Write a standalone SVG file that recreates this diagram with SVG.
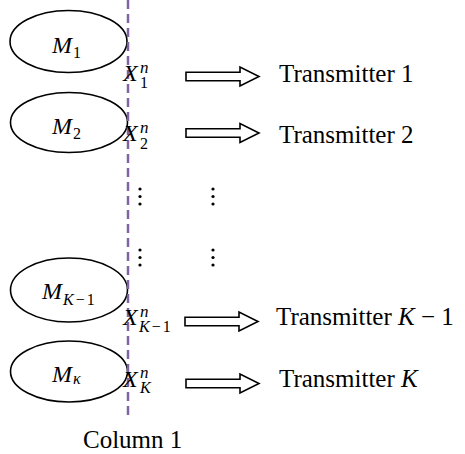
<svg xmlns="http://www.w3.org/2000/svg" width="465" height="454" viewBox="0 0 465 454">
<style>
.ell{fill:#fff;stroke:#000;stroke-width:1.6}
.m{font-family:"Liberation Serif",serif;font-size:24px;font-style:italic;fill:#000}
.x{font-family:"Liberation Serif",serif;font-size:24px;font-style:italic;fill:#000}
.n{font-size:17px;font-style:italic}
.sb{font-size:16px;font-style:normal}
.s{font-family:"Liberation Serif",serif;font-size:16px;fill:#000}
.it{font-style:italic}
.tx{font-family:"Liberation Serif",serif;font-size:25px;fill:#000}
.arrow{fill:#fff;stroke:#000;stroke-width:1.6;stroke-linejoin:miter}
.dot{fill:#000}
</style>
<defs>
<path id="blk" d="M0,-4.2 H54 V-9.5 L73,0 L54,9.5 V4.2 H0 Z"/>
</defs>
<g id="m1">
<ellipse class="ell" cx="68.5" cy="41.5" rx="58.5" ry="31"/>
<text class="m" x="52" y="53">M<tspan class="sb" x="73" dy="5">1</tspan></text>
</g>
<g id="m2">
<ellipse class="ell" cx="69" cy="122.5" rx="58.5" ry="30"/>
<text class="m" x="52" y="134">M<tspan class="sb" x="73" dy="5">2</tspan></text>
</g>
<g id="mk1">
<ellipse class="ell" cx="69" cy="290" rx="58.5" ry="32"/>
<text class="m" x="42" y="299">M<tspan class="sb" x="63" dy="6"><tspan class="it">K</tspan><tspan dx="2">−</tspan><tspan dx="2">1</tspan></tspan></text>
</g>
<g id="mk">
<ellipse class="ell" cx="69" cy="371.5" rx="58.5" ry="30.5"/>
<text class="m" x="52" y="382">M<tspan class="sb it" x="73" dy="2">κ</tspan></text>
</g>
<line x1="128" y1="0" x2="128" y2="418" stroke="#8064A2" stroke-width="2.5" stroke-dasharray="9 5"/>
<g id="x1">
<text class="x" x="123" y="81">X<tspan class="n" x="140" dy="-8">n</tspan><tspan class="sb" x="140" dy="15">1</tspan></text>
</g>
<g id="x2">
<text class="x" x="123" y="141">X<tspan class="n" x="140" dy="-8">n</tspan><tspan class="sb" x="140" dy="16">2</tspan></text>
</g>
<g id="xk1">
<text class="x" x="123" y="325">X<tspan class="n" x="140" dy="-8">n</tspan><tspan class="sb" x="139" dy="15"><tspan class="it">K</tspan><tspan dx="2">−</tspan><tspan dx="2">1</tspan></tspan></text>
</g>
<g id="xk">
<text class="x" x="123" y="387">X<tspan class="n" x="140" dy="-9">n</tspan><tspan class="sb it" x="140" dy="15">K</tspan></text>
</g>
<g id="connectors">
<use href="#blk" class="arrow" transform="translate(186,76.5)"/>
<use href="#blk" class="arrow" transform="translate(186,133)"/>
<use href="#blk" class="arrow" transform="translate(185,321.5)"/>
<use href="#blk" class="arrow" transform="translate(186,383.5)"/>
</g>
<g id="t1"><text class="tx" x="279" y="82">Transmitter 1</text></g>
<g id="t2"><text class="tx" x="279" y="143">Transmitter 2</text></g>
<g id="tk1"><text class="tx" x="276" y="325">Transmitter <tspan class="it">K</tspan> − 1</text></g>
<g id="tk"><text class="tx" x="279" y="387">Transmitter <tspan class="it">K</tspan></text></g>
<g id="dots">
<circle class="dot" cx="140" cy="189" r="1.6"/><circle class="dot" cx="140" cy="196.5" r="1.6"/><circle class="dot" cx="140" cy="204" r="1.6"/>
<circle class="dot" cx="213" cy="189" r="1.6"/><circle class="dot" cx="213" cy="196.5" r="1.6"/><circle class="dot" cx="213" cy="204" r="1.6"/>
<circle class="dot" cx="140" cy="250" r="1.6"/><circle class="dot" cx="140" cy="257.5" r="1.6"/><circle class="dot" cx="140" cy="265" r="1.6"/>
<circle class="dot" cx="213" cy="250" r="1.6"/><circle class="dot" cx="213" cy="257.5" r="1.6"/><circle class="dot" cx="213" cy="265" r="1.6"/>
</g>
<g id="col"><text class="tx" x="83" y="448">Column 1</text></g>
</svg>
